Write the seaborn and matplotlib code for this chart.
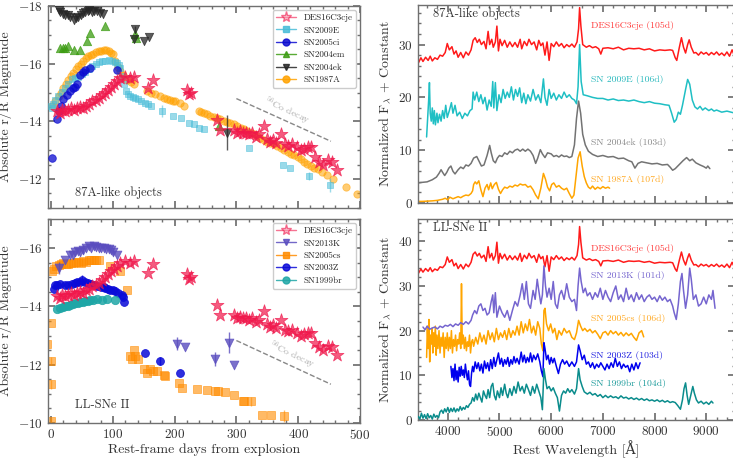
import pandas as pd
import seaborn as sns
import matplotlib.pyplot as plt
from matplotlib.lines import Line2D
from matplotlib.ticker import MultipleLocator


# ---------------- light curves (rest-frame days, absolute mag) ----------------
des_day = [10, 14, 18, 22, 27, 32, 37, 42, 47, 52, 57, 62, 67, 72, 77, 82, 87, 92, 97, 102,
           107, 112, 120, 127, 135, 157, 165, 220, 223, 226, 268, 274, 296, 301, 306, 311, 316, 321, 326, 331,
           336, 344, 349, 354, 359, 364, 372, 378, 384, 390, 398, 404, 410, 416, 421, 428, 434, 441, 448, 455,
           463]
des_mag = [-14.35, -14.3, -14.4, -14.35, -14.4, -14.45, -14.4, -14.45, -14.5, -14.45,
           -14.55, -14.6, -14.7, -14.75, -14.8, -14.9, -15.0, -15.1, -15.2, -15.3,
           -15.4, -15.5, -15.55, -15.5, -15.55, -15.15, -15.45, -15.1, -14.95, -15.0,
           -14.05, -13.7, -13.7, -13.6, -13.65, -13.6, -13.6, -13.55, -13.6, -13.45,
           -13.55, -13.85, -13.4, -13.3, -13.35, -13.25, -13.55, -13.2, -13.15, -13.2,
           -13.1, -13.0, -13.05, -13.1, -13.1, -12.75, -12.6, -12.5, -12.65, -12.6,
           -12.32]

sn2009e_day = [0, 1, 3, 6, 11, 17, 23, 28, 34, 39, 44, 50, 55, 61, 66, 72, 77, 83, 88, 93,
               98, 103, 107, 110, 112, 115, 118, 122, 125, 128, 132, 136, 140, 145, 152, 157, 162, 180, 198, 210,
               224, 232, 240, 247, 321, 376, 387, 418, 451]
sn2009e_mag = [-14.55, -14.45, -14.6, -14.75, -14.87, -15.02, -15.17, -15.3, -15.47, -15.5,
               -15.55, -15.65, -15.72, -15.82, -15.91, -15.98, -16.05, -16.09, -16.11, -16.12,
               -16.1, -16.07, -16.03, -15.95, -15.86, -15.56, -15.28, -15.05, -14.95, -14.87,
               -14.83, -14.8, -14.76, -14.7, -14.64, -14.6, -14.55, -14.36, -14.18, -14.1,
               -13.93, -13.9, -13.78, -13.72, -13.09, -12.48, -12.37, -12.11, -11.79]
sn2009e_err = {37: 0.2, 47: 0.15, 48: 0.25}

sn2005ci_day = [1, 9, 12, 16, 20, 25, 30, 35, 39, 42, 47, 51, 55, 63, 107]
sn2005ci_mag = [-12.72, -14.07, -14.35, -14.55, -14.76, -14.93, -15.05, -15.15, -15.2, -15.28,
                -15.62, -15.7, -15.77, -15.85, -15.79]

sn2004em_day = [15, 20, 23, 28, 37, 46, 58, 63, 88, 136, 138, 272]
sn2004em_mag = [-16.54, -16.56, -16.54, -16.6, -16.46, -16.48, -16.8, -17.06, -17.29, -17.02, -16.88, -13.84]

sn2004ek_day = [12, 15, 19, 22, 27, 31, 37, 41, 44, 48, 52, 55, 59, 62, 66, 70, 74, 79, 84, 134,
                136, 150, 158, 285]
sn2004ek_mag = [-17.86, -17.8, -17.72, -17.7, -17.68, -17.62, -17.52, -17.58, -17.63, -17.7,
                -17.75, -17.8, -17.82, -17.85, -17.8, -17.84, -17.82, -17.75, -17.72, -16.85,
                -17.2, -16.77, -16.92, -13.61]
sn2004ek_err = {20: 0.12, 23: 0.6}

sn1987a_day = [1, 6, 12, 16, 20, 24, 28, 32, 36, 40, 44, 48, 52, 56, 60, 64, 68, 72, 77, 81,
               85, 89, 93, 97, 100, 104, 108, 112, 117, 123, 129, 134, 155, 161, 168, 177, 183, 188, 193, 197,
               201, 208, 215, 239, 243, 247, 252, 258, 263, 269, 274, 280, 285, 290, 296, 301, 307, 312, 318, 323,
               328, 334, 339, 345, 350, 355, 361, 366, 372, 377, 383, 388, 394, 399, 405, 410, 415, 421, 426, 432,
               439, 446, 456, 477, 495]
sn1987a_mag = [-14.53, -14.7, -14.87, -15.0, -15.16, -15.3, -15.45, -15.57, -15.68, -15.8,
               -15.91, -16.0, -16.1, -16.18, -16.25, -16.3, -16.34, -16.39, -16.43, -16.45,
               -16.46, -16.46, -16.43, -16.38, -16.34, -16.08, -15.9, -15.74, -15.6, -15.45,
               -15.35, -15.28, -15.05, -14.99, -14.95, -14.87, -14.82, -14.78, -14.74, -14.72,
               -14.7, -14.63, -14.55, -14.36, -14.33, -14.3, -14.25, -14.2, -14.16, -14.13,
               -14.07, -14.0, -13.97, -13.95, -13.9, -13.84, -13.78, -13.72, -13.67, -13.61,
               -13.55, -13.49, -13.43, -13.36, -13.29, -13.24, -13.2, -13.15, -13.08, -13.01,
               -12.94, -12.88, -12.82, -12.75, -12.68, -12.6, -12.52, -12.47, -12.4, -12.34,
               -12.23, -12.15, -12.0, -11.71, -11.48]

sn2013k_day = [12, 23, 31, 36, 39, 44, 47, 52, 56, 61, 65, 69, 73, 77, 81, 85, 89, 93, 97, 101,
               107, 204, 216, 265, 288, 296]
sn2013k_mag = [-15.32, -15.6, -15.77, -15.75, -15.85, -15.9, -15.88, -15.95, -16.0, -16.06,
               -16.02, -16.08, -16.05, -16.02, -16.0, -16.0, -15.98, -15.96, -15.92, -15.88,
               -15.77, -12.72, -12.62, -12.19, -12.76, -11.98]
sn2013k_err = {0: 0.2, 7: 0.15, 19: 0.12, 21: 0.22, 23: 0.25, 24: 0.35}

sn2005cs_day = [-7, 0, 0, 0, 0, 1, 4, 8, 12, 16, 20, 24, 28, 32, 36, 40, 44, 48, 52, 57,
                61, 65, 69, 73, 77, 96, 112, 123, 128, 131, 134, 136, 140, 150, 155, 160, 165, 171, 182, 185,
                207, 212, 236, 253, 266, 270, 282, 296, 310, 313, 323, 342, 356, 377]
sn2005cs_mag = [-12.72, -10.06, -11.33, -12.13, -13.44, -15.2, -15.3, -15.38, -15.43, -15.45,
                -15.49, -15.45, -15.47, -15.5, -15.48, -15.52, -15.54, -15.5, -15.55, -15.53,
                -15.58, -15.6, -15.6, -15.58, -15.6, -15.37, -15.23, -14.58, -12.3, -12.2,
                -12.5, -12.3, -12.2, -11.87, -11.73, -11.85, -11.8, -11.77, -11.64, -11.6,
                -11.36, -11.19, -11.16, -11.14, -11.1, -11.1, -11.05, -10.96, -10.77, -10.77,
                -10.74, -10.29, -10.29, -10.23]
sn2005cs_err = {1: 0.1, 2: 0.15, 3: 0.15, 50: 0.15, 53: 0.2}

sn2003z_day = [4, 7, 10, 15, 22, 28, 34, 38, 42, 46, 50, 55, 59, 64, 69, 75, 80, 85, 88, 92,
               96, 100, 104, 109, 114, 116, 118, 152, 176, 209]
sn2003z_mag = [-14.6, -14.72, -14.75, -14.78, -14.75, -14.72, -14.78, -14.8, -14.83, -14.85,
               -14.9, -14.83, -14.8, -14.78, -14.75, -14.7, -14.67, -14.65, -14.63, -14.6,
               -14.58, -14.55, -14.52, -14.45, -14.38, -14.33, -14.14, -12.39, -12.13, -11.73]
sn2003z_err = {10: 0.18, 17: 0.12, 28: 0.15}

sn1999br_day = [9, 14, 19, 23, 27, 31, 35, 39, 43, 47, 51, 55, 59, 63, 68, 74, 82, 90, 104]
sn1999br_mag = [-13.92, -13.95, -13.98, -14.0, -14.03, -14.06, -14.09, -14.12, -14.13, -14.14,
                -14.16, -14.18, -14.19, -14.21, -14.22, -14.24, -14.22, -14.26, -14.21]

# 56Co decay guide (days, mag)
co_day = [300, 453]
co_mag_87a = [-14.79, -13.31]
co_mag_ll = [-12.83, -11.33]

# ---------------- spectra (rest wavelength, normalised flux + constant) ----------------
des_spec = [(3430, 26.5), (3480, 27.5), (3520, 26.8), (3570, 27.6), (3620, 27.0), (3660, 27.8), (3700, 26.9),
            (3750, 27.5), (3800, 27.2), (3850, 28.0), (3900, 27.8), (3950, 28.5), (3990, 30.2), (4030, 29.0),
            (4080, 29.6), (4120, 28.2), (4160, 28.8), (4200, 27.6), (4250, 28.5), (4300, 27.5), (4350, 28.6),
            (4400, 28.0), (4450, 29.0), (4490, 30.8), (4530, 31.3), (4570, 30.4), (4610, 31.0), (4650, 30.0),
            (4700, 30.6), (4740, 29.2), (4780, 32.5), (4810, 30.0), (4850, 31.0), (4880, 29.5), (4920, 30.5),
            (4950, 33.5), (4980, 28.8), (5010, 31.0), (5050, 29.8), (5100, 30.8), (5150, 29.5), (5200, 30.5),
            (5250, 29.6), (5300, 30.4), (5350, 29.5), (5400, 31.0), (5430, 29.2), (5480, 30.6), (5530, 29.8),
            (5570, 31.0), (5620, 30.0), (5670, 30.5), (5720, 29.0), (5760, 30.8), (5800, 29.8), (5840, 30.3),
            (5880, 28.0), (5920, 30.5), (5960, 27.0), (6000, 30.2), (6050, 29.6), (6100, 30.5), (6150, 29.7),
            (6200, 30.2), (6250, 29.4), (6300, 30.0), (6350, 29.6), (6400, 30.1), (6450, 29.5), (6500, 30.5),
            (6530, 33.0), (6550, 37.0), (6575, 33.5), (6610, 30.0), (6680, 29.5), (6740, 29.8), (6800, 29.4),
            (6860, 29.6), (6920, 29.2), (6960, 28.2), (7000, 29.3), (7100, 29.4), (7200, 29.2), (7300, 29.5),
            (7400, 29.0), (7500, 29.3), (7600, 29.2), (7700, 29.3), (7800, 29.0), (7900, 29.2), (8000, 28.8),
            (8100, 29.0), (8200, 28.9), (8300, 29.0), (8350, 28.9), (8400, 27.5), (8430, 27.0), (8480, 29.5),
            (8520, 31.3), (8560, 29.5), (8600, 28.4), (8640, 30.0), (8670, 30.9), (8710, 29.5), (8760, 28.4),
            (8800, 28.5), (8850, 28.0), (8900, 28.6), (8950, 28.2), (9000, 28.5), (9050, 28.0), (9100, 28.5),
            (9150, 28.1), (9200, 28.6), (9250, 28.0), (9300, 28.4), (9350, 27.9), (9400, 28.6), (9450, 27.8),
            (9500, 29.0), (9560, 27.5)]
des_const_87a = 0.0
des_const_ll = 6.3

sn2009e_spec = [(3590, 12.5), (3610, 16.0), (3630, 19.5), (3645, 22.8), (3660, 17.0), (3680, 15.5), (3700, 18.0),
                (3720, 15.0), (3740, 17.5), (3760, 14.8), (3790, 17.0), (3810, 15.2), (3840, 16.8), (3870, 15.5),
                (3900, 17.5), (3930, 16.0), (3960, 18.5), (3990, 16.2), (4030, 17.5), (4070, 19.0), (4100, 17.0),
                (4140, 18.5), (4180, 16.5), (4230, 17.2), (4280, 16.0), (4330, 17.0), (4380, 16.5), (4430, 17.5),
                (4470, 17.8), (4490, 21.0), (4520, 19.5), (4560, 21.0), (4600, 19.2), (4640, 20.5), (4680, 18.8),
                (4720, 20.0), (4760, 17.6), (4800, 19.5), (4840, 18.3), (4870, 23.0), (4890, 18.0), (4920, 22.8),
                (4950, 17.5), (4990, 20.5), (5030, 19.0), (5070, 21.5), (5110, 19.8), (5150, 21.0), (5190, 20.0),
                (5230, 22.0), (5270, 19.5), (5310, 21.5), (5350, 20.2), (5390, 21.8), (5430, 19.0), (5470, 20.8),
                (5510, 18.8), (5550, 20.5), (5600, 19.3), (5650, 21.5), (5700, 19.5), (5750, 20.5), (5800, 19.0),
                (5850, 23.5), (5880, 20.0), (5920, 18.5), (5960, 21.5), (6000, 19.8), (6050, 20.8), (6100, 19.5),
                (6150, 20.5), (6200, 19.8), (6250, 21.0), (6300, 20.0), (6350, 20.5), (6400, 19.8), (6450, 19.5),
                (6490, 18.8), (6520, 22.0), (6550, 30.0), (6580, 23.0), (6620, 20.5), (6700, 20.3), (6800, 20.0),
                (6900, 19.8), (7000, 19.8), (7100, 19.5), (7200, 19.7), (7300, 19.4), (7400, 19.5), (7500, 19.3),
                (7600, 19.5), (7700, 19.2), (7800, 19.0), (7900, 19.2), (8000, 18.9), (8100, 18.8), (8200, 18.6),
                (8280, 18.5), (8330, 17.0), (8380, 15.3), (8420, 15.8), (8460, 17.2), (8500, 16.8), (8540, 18.5),
                (8600, 21.5), (8640, 23.4), (8680, 22.5), (8730, 19.5), (8780, 18.2), (8830, 17.8), (8880, 18.3),
                (8930, 17.6), (8980, 18.0), (9050, 17.5), (9100, 17.8), (9150, 17.4), (9200, 17.6), (9300, 17.2),
                (9400, 17.4), (9560, 17.0)]

sn2004ek_spec = [(3430, 3.8), (3500, 3.9), (3600, 4.0), (3700, 4.4), (3780, 4.9), (3830, 5.6), (3870, 6.3),
                 (3900, 5.8), (3940, 5.2), (3980, 5.8), (4020, 6.6), (4060, 7.0), (4100, 6.0), (4140, 5.5),
                 (4200, 6.3), (4250, 6.8), (4300, 6.5), (4350, 7.2), (4400, 7.0), (4450, 7.5), (4500, 8.5),
                 (4560, 8.8), (4600, 8.0), (4650, 7.0), (4700, 7.2), (4760, 9.0), (4810, 10.9), (4840, 9.5),
                 (4880, 8.0), (4920, 7.6), (4960, 8.5), (5000, 9.0), (5050, 8.8), (5100, 9.5), (5150, 9.2),
                 (5200, 9.8), (5250, 9.5), (5300, 10.0), (5350, 10.2), (5400, 9.8), (5450, 10.2), (5500, 9.8),
                 (5550, 10.2), (5600, 9.8), (5650, 9.0), (5700, 7.5), (5740, 8.5), (5790, 10.1), (5830, 9.3),
                 (5880, 8.6), (5930, 9.5), (6000, 9.3), (6050, 8.8), (6100, 9.0), (6150, 8.7), (6200, 9.1),
                 (6250, 8.8), (6300, 8.9), (6350, 8.6), (6400, 8.8), (6450, 11.0), (6490, 16.0), (6530, 19.3),
                 (6570, 17.0), (6610, 13.0), (6660, 11.0), (6720, 9.8), (6800, 9.2), (6900, 8.8), (7000, 9.0),
                 (7100, 8.7), (7200, 8.8), (7300, 8.4), (7400, 8.5), (7500, 8.0), (7560, 7.8), (7620, 6.6),
                 (7680, 7.5), (7750, 7.8), (7850, 7.6), (7950, 7.4), (8050, 7.5), (8150, 7.2), (8250, 7.3),
                 (8300, 6.8), (8350, 6.2), (8400, 6.5), (8470, 7.2), (8550, 8.0), (8620, 8.6), (8680, 8.0),
                 (8730, 8.3), (8800, 7.6), (8880, 7.2), (8950, 6.9), (9000, 6.6), (9030, 7.0), (9070, 6.5)]

sn1987a_spec = [(3430, 0.3), (3500, 0.3), (3600, 0.35), (3700, 0.4), (3800, 0.5), (3900, 0.7), (3950, 0.9),
                (4000, 0.6), (4040, 1.1), (4100, 0.8), (4150, 1.0), (4200, 1.2), (4250, 1.0), (4300, 1.3),
                (4350, 1.5), (4400, 1.4), (4450, 1.8), (4480, 2.3), (4500, 3.5), (4530, 4.0), (4560, 3.6),
                (4600, 4.2), (4640, 2.5), (4680, 1.2), (4720, 2.8), (4760, 3.5), (4790, 2.5), (4830, 3.8),
                (4860, 2.7), (4900, 3.5), (4940, 3.9), (4980, 2.6), (5020, 1.8), (5060, 2.5), (5100, 3.0),
                (5150, 2.8), (5200, 3.2), (5250, 3.0), (5300, 3.4), (5350, 3.2), (5400, 3.6), (5450, 3.4),
                (5500, 3.5), (5550, 3.0), (5600, 3.2), (5650, 2.5), (5700, 1.5), (5750, 0.8), (5800, 2.8),
                (5850, 5.6), (5890, 4.5), (5930, 3.0), (5970, 2.3), (6010, 3.5), (6050, 3.8), (6100, 3.0),
                (6150, 3.3), (6200, 2.8), (6250, 2.5), (6300, 2.8), (6350, 1.8), (6400, 0.9), (6440, 1.5),
                (6480, 5.0), (6520, 8.5), (6560, 9.7), (6600, 7.0), (6640, 5.0), (6680, 3.8), (6720, 3.0),
                (6760, 2.7), (6800, 3.2), (6850, 2.6), (6900, 3.0), (6950, 2.7), (7000, 3.1), (7050, 2.8),
                (7100, 3.0), (7130, 2.8)]

sn2013k_spec = [(3520, 20.8), (3560, 20.2), (3600, 21.0), (3650, 20.3), (3700, 20.6), (3750, 20.8), (3800, 20.4),
                (3850, 21.0), (3900, 20.7), (3950, 21.2), (4000, 21.0), (4050, 21.4), (4100, 20.9), (4150, 21.5),
                (4200, 21.2), (4250, 21.8), (4300, 21.4), (4350, 22.0), (4400, 21.5), (4450, 22.3), (4480, 23.5),
                (4520, 24.5), (4560, 23.8), (4600, 25.5), (4640, 26.0), (4680, 24.5), (4720, 25.0), (4760, 23.5),
                (4800, 24.0), (4840, 26.5), (4870, 28.0), (4890, 24.0), (4920, 28.5), (4950, 23.0), (5000, 25.5),
                (5050, 24.0), (5100, 23.0), (5150, 24.5), (5200, 22.3), (5250, 24.5), (5300, 26.5), (5350, 25.5),
                (5400, 28.0), (5440, 30.5), (5480, 27.0), (5520, 31.0), (5560, 26.0), (5600, 25.0), (5650, 29.0),
                (5690, 27.0), (5730, 31.5), (5760, 29.0), (5800, 26.0), (5830, 28.0), (5860, 34.5), (5890, 30.0),
                (5920, 27.5), (5960, 29.5), (6000, 27.0), (6040, 31.0), (6080, 26.0), (6120, 25.0), (6160, 28.0),
                (6200, 29.0), (6250, 27.0), (6300, 30.5), (6350, 27.5), (6400, 26.5), (6450, 27.0), (6490, 24.5),
                (6520, 30.0), (6550, 34.0), (6580, 31.0), (6620, 28.5), (6660, 29.5), (6700, 27.8), (6750, 28.5),
                (6800, 27.0), (6850, 28.5), (6900, 27.5), (6950, 29.5), (7000, 27.0), (7050, 29.0), (7100, 27.5),
                (7150, 26.5), (7200, 28.5), (7250, 30.0), (7300, 27.0), (7350, 28.0), (7400, 26.5), (7450, 29.5),
                (7500, 27.0), (7550, 28.0), (7600, 26.5), (7650, 28.5), (7700, 27.0), (7750, 28.0), (7800, 26.5),
                (7850, 27.5), (7900, 28.0), (7950, 27.0), (8000, 27.5), (8050, 26.5), (8100, 27.8), (8150, 26.8),
                (8200, 27.5), (8250, 26.5), (8300, 27.0), (8350, 25.5), (8380, 24.0), (8420, 22.5), (8460, 26.0),
                (8500, 31.0), (8530, 32.8), (8560, 29.0), (8600, 25.0), (8640, 28.0), (8680, 34.0), (8710, 31.5),
                (8750, 27.0), (8800, 28.0), (8850, 25.5), (8900, 26.0), (8950, 27.5), (9000, 26.0), (9050, 28.0),
                (9100, 27.0), (9130, 29.0), (9170, 25.0)]

sn2005cs_spec = [(3590, 14.0), (3605, 21.0), (3620, 16.0), (3635, 22.5), (3650, 13.0), (3665, 19.0), (3680, 17.0),
                 (3695, 20.5), (3710, 15.0), (3725, 19.5), (3740, 16.5), (3760, 21.0), (3775, 14.5), (3790, 19.0),
                 (3810, 16.0), (3830, 20.0), (3850, 15.0), (3870, 18.5), (3890, 16.5), (3910, 19.5), (3930, 14.0),
                 (3950, 18.5), (3970, 16.0), (3990, 19.5), (4010, 15.5), (4030, 18.5), (4050, 16.0), (4070, 20.0),
                 (4090, 15.0), (4110, 18.0), (4130, 16.5), (4150, 19.0), (4170, 15.5), (4190, 18.0), (4210, 17.0),
                 (4230, 19.5), (4250, 16.0), (4265, 30.5), (4280, 17.0), (4300, 19.0), (4320, 16.0), (4340, 18.5),
                 (4360, 15.5), (4380, 17.5), (4400, 16.5), (4420, 19.0), (4440, 15.0), (4460, 17.5), (4480, 18.0),
                 (4500, 16.5), (4540, 18.5), (4580, 17.0), (4620, 19.5), (4660, 17.5), (4700, 19.0), (4740, 17.0),
                 (4780, 20.0), (4820, 18.0), (4860, 19.5), (4900, 17.5), (4940, 20.5), (4980, 18.0), (5020, 19.5),
                 (5060, 18.5), (5100, 20.0), (5140, 18.0), (5180, 20.5), (5220, 18.5), (5260, 20.0), (5300, 19.0),
                 (5340, 21.0), (5380, 19.0), (5420, 22.0), (5460, 19.5), (5500, 21.5), (5540, 20.0), (5580, 22.5),
                 (5620, 19.5), (5660, 21.0), (5700, 19.0), (5740, 22.0), (5780, 20.5), (5810, 17.0), (5840, 15.5),
                 (5860, 24.5), (5880, 25.0), (5910, 21.5), (5950, 20.0), (5990, 21.5), (6030, 19.5), (6070, 20.5),
                 (6110, 18.0), (6150, 20.0), (6200, 19.0), (6250, 20.5), (6300, 19.5), (6350, 20.0), (6400, 18.5),
                 (6450, 18.0), (6490, 19.5), (6530, 22.3), (6570, 21.0), (6610, 20.0), (6650, 20.5), (6700, 19.8),
                 (6750, 20.3), (6800, 19.5), (6850, 20.0), (6900, 19.2), (6950, 18.2), (7000, 19.5), (7050, 19.8),
                 (7100, 19.0), (7150, 20.0), (7200, 19.3), (7250, 19.8), (7300, 19.0), (7350, 19.6), (7400, 18.8),
                 (7450, 19.5), (7500, 18.9), (7550, 19.4), (7600, 18.5), (7650, 17.8), (7700, 19.5), (7750, 20.0),
                 (7790, 18.6)]

sn2003z_spec = [(4060, 12.0), (4080, 9.5), (4100, 11.5), (4120, 8.8), (4140, 12.5), (4160, 9.0), (4180, 11.0),
                (4200, 8.5), (4220, 11.8), (4240, 9.8), (4260, 12.0), (4280, 10.0), (4300, 11.2), (4320, 9.5),
                (4340, 12.5), (4360, 10.5), (4380, 9.0), (4400, 11.0), (4420, 8.0), (4440, 7.5), (4460, 10.5),
                (4480, 12.0), (4500, 10.8), (4530, 13.0), (4560, 11.5), (4590, 12.8), (4620, 11.0), (4650, 12.5),
                (4680, 10.5), (4710, 13.2), (4740, 11.5), (4770, 12.8), (4800, 11.0), (4830, 13.5), (4860, 11.5),
                (4890, 14.0), (4920, 12.0), (4950, 13.5), (4980, 15.0), (5010, 12.5), (5040, 13.8), (5070, 12.0),
                (5100, 13.5), (5130, 12.5), (5160, 14.0), (5190, 12.0), (5220, 13.5), (5250, 12.5), (5280, 14.2),
                (5310, 12.8), (5340, 13.8), (5380, 12.5), (5420, 15.2), (5450, 13.0), (5480, 14.5), (5510, 12.8),
                (5540, 14.0), (5570, 13.0), (5600, 15.0), (5630, 13.0), (5660, 14.5), (5700, 13.5), (5740, 14.8),
                (5780, 13.0), (5810, 11.0), (5840, 9.7), (5860, 17.3), (5880, 16.0), (5910, 13.5), (5940, 14.5),
                (5970, 12.5), (6000, 14.0), (6030, 12.8), (6060, 13.8), (6100, 12.0), (6140, 10.4), (6180, 12.5),
                (6220, 13.5), (6260, 12.5), (6300, 13.2), (6350, 12.0), (6400, 13.0), (6450, 12.0), (6490, 13.0),
                (6530, 16.8), (6560, 15.5), (6600, 13.5), (6640, 14.5), (6680, 12.5), (6720, 13.0), (6760, 11.8),
                (6800, 12.8), (6840, 11.5), (6880, 12.5), (6920, 11.8), (6960, 12.8), (7000, 12.0), (7040, 11.2),
                (7080, 12.5), (7120, 11.5), (7160, 12.8), (7200, 11.8), (7240, 13.8), (7280, 12.0), (7320, 13.0),
                (7360, 11.5), (7400, 12.5), (7440, 11.8), (7480, 12.2), (7520, 10.8), (7560, 12.5), (7600, 11.2),
                (7640, 12.8), (7680, 11.5), (7720, 12.8)]

sn1999br_spec = [(3430, 0.8), (3460, 0.2), (3490, 1.5), (3520, 0.4), (3550, 1.2), (3580, 0.3), (3610, 1.4),
                 (3640, 0.5), (3670, 1.0), (3700, 0.2), (3730, 1.3), (3760, 0.6), (3790, 1.0), (3820, 0.5),
                 (3850, 1.8), (3880, 2.2), (3910, 1.5), (3940, 2.5), (3970, 1.8), (4000, 2.8), (4030, 1.7),
                 (4060, 2.6), (4090, 1.9), (4120, 2.7), (4150, 1.8), (4180, 2.5), (4210, 2.0), (4240, 3.0),
                 (4270, 2.2), (4300, 2.8), (4330, 2.4), (4360, 3.2), (4390, 2.8), (4420, 3.5), (4450, 3.8),
                 (4480, 5.0), (4510, 4.2), (4540, 5.8), (4570, 4.5), (4600, 6.0), (4630, 5.0), (4660, 4.0),
                 (4690, 6.5), (4720, 5.5), (4750, 4.8), (4780, 6.8), (4810, 5.0), (4840, 7.5), (4870, 8.2),
                 (4900, 5.5), (4930, 4.5), (4960, 6.5), (5000, 5.0), (5030, 7.2), (5060, 5.5), (5100, 8.0),
                 (5130, 6.0), (5160, 5.0), (5200, 7.0), (5240, 5.5), (5280, 7.5), (5320, 6.0), (5360, 8.5),
                 (5400, 6.5), (5440, 7.5), (5480, 6.0), (5520, 8.0), (5560, 6.8), (5600, 5.5), (5640, 7.5),
                 (5680, 6.0), (5720, 8.0), (5760, 6.5), (5800, 5.0), (5830, 2.3), (5860, 11.5), (5890, 9.0),
                 (5920, 7.0), (5960, 7.5), (6000, 6.5), (6040, 7.2), (6080, 6.0), (6120, 5.0), (6160, 2.0),
                 (6200, 5.5), (6240, 6.5), (6280, 6.0), (6320, 7.0), (6360, 6.2), (6400, 6.8), (6450, 5.8),
                 (6490, 7.0), (6530, 11.5), (6560, 9.0), (6600, 7.5), (6640, 6.3), (6700, 5.8), (6750, 6.2),
                 (6800, 5.6), (6850, 5.9), (6900, 5.3), (6950, 5.7), (7000, 5.0), (7050, 5.5), (7100, 5.0),
                 (7150, 5.4), (7200, 5.0), (7250, 5.2), (7300, 4.8), (7350, 5.4), (7400, 4.9), (7450, 5.1),
                 (7500, 4.7), (7550, 5.0), (7600, 4.6), (7650, 4.9), (7700, 4.5), (7750, 4.8), (7800, 4.4),
                 (7850, 4.7), (7900, 4.3), (7950, 4.5), (8000, 4.2), (8050, 4.5), (8100, 4.1), (8150, 4.4),
                 (8200, 4.0), (8250, 4.3), (8300, 3.9), (8350, 4.1), (8400, 3.9), (8450, 3.2), (8500, 2.4),
                 (8540, 4.5), (8570, 7.0), (8600, 8.3), (8630, 5.5), (8660, 3.5), (8700, 5.5), (8740, 7.5),
                 (8770, 6.0), (8810, 4.5), (8850, 3.8), (8900, 4.2), (8950, 3.6), (9000, 4.0), (9050, 3.5),
                 (9100, 4.2), (9130, 3.8)]

# spectrum labels: (text, wavelength, flux)
labels_87a = [("DES16C3cje (105d)", 6780, 33.7), ("SN 2009E (106d)", 6780, 23.4),
              ("SN 2004ek (103d)", 6780, 11.4), ("SN 1987A (107d)", 6780, 4.4)]
labels_ll = [("DES16C3cje (105d)", 6780, 38.3), ("SN 2013K (101d)", 6780, 32.4),
             ("SN 2005cs (106d)", 6780, 22.7), ("SN 2003Z (103d)", 6780, 14.5),
             ("SN 1999br (104d)", 6780, 8.2)]

# ---------------- styles ----------------
STY = {
    "DES16C3cje": dict(marker="*", color="#f0174b", s=95, alpha=0.7),
    "SN2009E": dict(marker="s", color="#48bcd8", s=24, alpha=0.55),
    "SN2005ci": dict(marker="o", color="#0a0ad0", s=30, alpha=0.75),
    "SN2004em": dict(marker="^", color="#3c9c12", s=36, alpha=0.75),
    "SN2004ek": dict(marker="v", color="#262626", s=36, alpha=0.75),
    "SN1987A": dict(marker="o", color="#ffa200", s=28, alpha=0.55),
    "SN2013K": dict(marker="v", color="#5a4dbf", s=40, alpha=0.8),
    "SN2005cs": dict(marker="s", color="#ff8c00", s=36, alpha=0.6),
    "SN2003Z": dict(marker="o", color="#0a0ad8", s=32, alpha=0.85),
    "SN1999br": dict(marker="o", color="#1ea6a6", s=36, alpha=0.85),
}
TEXT = "#333333"
SPINE = "#707070"

sns.set_theme(style="ticks")
plt.rcParams["font.family"] = ["cmr10", "DejaVu Serif"]
plt.rcParams["mathtext.fontset"] = "cm"
plt.rcParams["axes.formatter.use_mathtext"] = True
plt.rcParams["axes.unicode_minus"] = True


def plot_lc(ax, name, day, mag, err=None, z=3):
    st = STY[name]
    df = pd.DataFrame({"day": day, "mag": mag})
    if err:
        for i, e in err.items():
            ax.errorbar(day[i], mag[i], yerr=e, color=st["color"], alpha=st["alpha"], lw=1.0, zorder=z - 0.5)
    sns.scatterplot(data=df, x="day", y="mag", ax=ax, marker=st["marker"], color=st["color"], s=st["s"],
                    alpha=st["alpha"], edgecolor=st["color"], linewidth=0.6, zorder=z, legend=False)


def plot_spec(ax, spec, color, const=0.0, z=2):
    df = pd.DataFrame(spec, columns=["wave", "flux"])
    df["flux"] = df["flux"] + const
    sns.lineplot(data=df, x="wave", y="flux", ax=ax, color=color, lw=1.1, sort=False, estimator=None, zorder=z)


def handle(name):
    st = STY[name]
    face = "#f7a0b4" if name == "DES16C3cje" else st["color"]
    ms = 8 if name == "DES16C3cje" else 5
    return Line2D([], [], color=st["color"], alpha=0.85 if name != "DES16C3cje" else 0.6, marker=st["marker"],
                  markersize=ms, markerfacecolor=face, markeredgecolor=st["color"], lw=1.0, label=name)


def style_ax(ax):
    for sp in ax.spines.values():
        sp.set_color(SPINE)
        sp.set_linewidth(1.0)
    ax.tick_params(which="both", direction="in", top=True, right=True, color=SPINE, labelcolor=TEXT,
                   labelsize=9.5)
    ax.tick_params(which="major", length=5)
    ax.tick_params(which="minor", length=2.5)
    ax.set_xlabel("")
    ax.set_ylabel("")


fig = plt.figure(figsize=(7.33, 4.61), dpi=100)
ax_lc1 = fig.add_axes([0.0655, 0.549, 0.4255, 0.438])
ax_lc2 = fig.add_axes([0.0655, 0.0824, 0.4255, 0.4426])
ax_sp1 = fig.add_axes([0.570, 0.5597, 0.433, 0.4295])
ax_sp2 = fig.add_axes([0.570, 0.0890, 0.433, 0.4360])

# ---- top left: 87A-like light curves ----
plot_lc(ax_lc1, "SN1987A", sn1987a_day, sn1987a_mag, z=2)
plot_lc(ax_lc1, "SN2009E", sn2009e_day, sn2009e_mag, sn2009e_err, z=3)
plot_lc(ax_lc1, "SN2005ci", sn2005ci_day, sn2005ci_mag, z=3)
plot_lc(ax_lc1, "SN2004em", sn2004em_day, sn2004em_mag, z=3)
plot_lc(ax_lc1, "SN2004ek", sn2004ek_day, sn2004ek_mag, sn2004ek_err, z=3)
plot_lc(ax_lc1, "DES16C3cje", des_day, des_mag, z=5)
ax_lc1.plot(co_day, co_mag_87a, ls="--", color="#888888", lw=1.0)
ax_lc1.text(383, -14.38, r"$^{56}$Co decay", color="#aaaaaa", fontsize=7, rotation=-25, ha="center", va="center")
ax_lc1.text(0.087, 0.075, "87A-like objects", transform=ax_lc1.transAxes, fontsize=9, color=TEXT, va="center")
ax_lc1.legend(handles=[handle(n) for n in ["DES16C3cje", "SN2009E", "SN2005ci", "SN2004em", "SN2004ek", "SN1987A"]],
              loc="upper right", fontsize=6.5, frameon=True, edgecolor="#cccccc", framealpha=1,
              handlelength=2.2, labelspacing=0.45, borderaxespad=0.45)
ax_lc1.set_xlim(-5, 500)
ax_lc1.set_ylim(-11, -18)
ax_lc1.tick_params(labelbottom=False)

# ---- bottom left: LL-SNe II light curves ----
plot_lc(ax_lc2, "SN2005cs", sn2005cs_day, sn2005cs_mag, sn2005cs_err, z=2)
plot_lc(ax_lc2, "SN2013K", sn2013k_day, sn2013k_mag, sn2013k_err, z=3)
plot_lc(ax_lc2, "SN2003Z", sn2003z_day, sn2003z_mag, sn2003z_err, z=3)
plot_lc(ax_lc2, "SN1999br", sn1999br_day, sn1999br_mag, z=3)
plot_lc(ax_lc2, "DES16C3cje", des_day, des_mag, z=5)
ax_lc2.plot(co_day, co_mag_ll, ls="--", color="#888888", lw=1.0)
ax_lc2.text(390, -12.36, r"$^{56}$Co decay", color="#aaaaaa", fontsize=7, rotation=-25, ha="center", va="center")
ax_lc2.text(0.087, 0.088, "LL-SNe II", transform=ax_lc2.transAxes, fontsize=9, color=TEXT, va="center")
ax_lc2.legend(handles=[handle(n) for n in ["DES16C3cje", "SN2013K", "SN2005cs", "SN2003Z", "SN1999br"]],
              loc="upper right", fontsize=6.5, frameon=True, edgecolor="#cccccc", framealpha=1,
              handlelength=2.2, labelspacing=0.45, borderaxespad=0.45)
ax_lc2.set_xlim(-5, 500)
ax_lc2.set_ylim(-10, -17)

for ax in (ax_lc1, ax_lc2):
    style_ax(ax)
    ax.xaxis.set_major_locator(MultipleLocator(100))
    ax.xaxis.set_minor_locator(MultipleLocator(20))
    ax.yaxis.set_major_locator(MultipleLocator(2))
    ax.yaxis.set_minor_locator(MultipleLocator(0.5))
    ax.set_ylabel("Absolute r/R Magnitude", fontsize=10, color=TEXT)
ax_lc2.set_xlabel("Rest-frame days from explosion", fontsize=10, color=TEXT, labelpad=1)

# ---- top right: 87A-like spectra ----
plot_spec(ax_sp1, des_spec, "#ff1a1a", des_const_87a)
plot_spec(ax_sp1, sn2009e_spec, "#1fbfc4")
plot_spec(ax_sp1, sn2004ek_spec, "#737373")
plot_spec(ax_sp1, sn1987a_spec, "#ffa500")
for (txt, x, y), c in zip(labels_87a, ["#ff3b3b", "#26b8bc", "#8a8a8a", "#ffa820"]):
    ax_sp1.text(x, y, txt, color=c, fontsize=7, va="center")
ax_sp1.text(0.048, 0.955, "87A-like objects", transform=ax_sp1.transAxes, fontsize=9, color=TEXT, va="center")
ax_sp1.set_ylim(0, 37.5)
ax_sp1.tick_params(labelbottom=False)

# ---- bottom right: LL-SNe II spectra ----
plot_spec(ax_sp2, des_spec, "#ff1a1a", des_const_ll)
plot_spec(ax_sp2, sn2005cs_spec, "#ffa500", z=2)
plot_spec(ax_sp2, sn2013k_spec, "#7565cf", z=3)
plot_spec(ax_sp2, sn2003z_spec, "#0000ee", z=3)
plot_spec(ax_sp2, sn1999br_spec, "#0a8c8c", z=3)
for (txt, x, y), c in zip(labels_ll, ["#ff3b3b", "#7565cf", "#ffa820", "#2020e0", "#1a9a9a"]):
    ax_sp2.text(x, y, txt, color=c, fontsize=7, va="center")
ax_sp2.text(0.048, 0.955, "LL-SNe II", transform=ax_sp2.transAxes, fontsize=9, color=TEXT, va="center")
ax_sp2.set_ylim(0, 45)

for ax in (ax_sp1, ax_sp2):
    style_ax(ax)
    ax.set_xlim(3420, 9560)
    ax.xaxis.set_major_locator(MultipleLocator(1000))
    ax.xaxis.set_minor_locator(MultipleLocator(200))
    ax.yaxis.set_major_locator(MultipleLocator(10))
    ax.yaxis.set_minor_locator(MultipleLocator(2))
    ax.set_ylabel(r"Normalized F$_\lambda$ + Constant", fontsize=10, color=TEXT)
ax_sp2.set_xlabel("Rest Wavelength [Å]", fontsize=10, color=TEXT, labelpad=1)

fig.savefig("out.png", dpi=100)
